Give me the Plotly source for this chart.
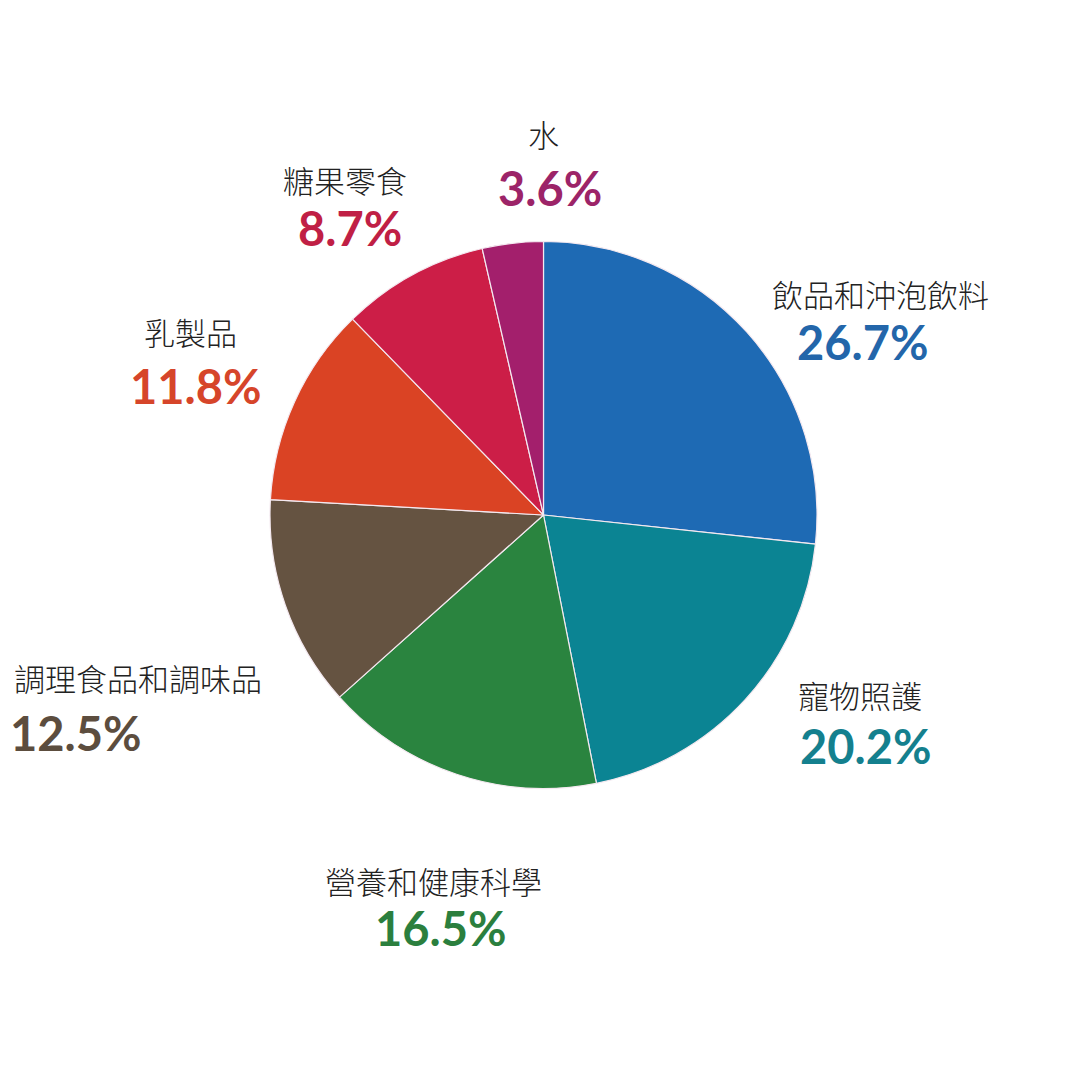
import plotly.graph_objects as go

labels = ["飲品和沖泡飲料", "寵物照護", "營養和健康科學", "調理食品和調味品", "乳製品", "糖果零食", "水"]
values = [26.7, 20.2, 16.5, 12.5, 11.8, 8.7, 3.6]
slice_colors = ["#1e6ab4", "#0b8493", "#2a843f", "#655341", "#da4324", "#cc1e47", "#a31f6c"]
text_colors = ["#2366aa", "#14808e", "#2b7f3e", "#5c4d3e", "#d6452a", "#c01f45", "#9c2468"]

# label positions in pixels (name center, percent center), and anchor
name_pos = [(880, 293), (860, 694), (433, 880), (138, 677), (190, 332), (345, 180), (543, 133)]
pct_pos = [(862, 342), (865, 746), (440, 928), (8, 733), (195, 386), (350, 228), (550, 188)]
pct_anchor = ["center", "center", "center", "left", "center", "center", "center"]

W = H = 1075
cx, cy, r = 543.5, 515, 273.5

fig = go.Figure(go.Pie(
    labels=labels, values=values, sort=False, direction="clockwise", rotation=0,
    marker=dict(colors=slice_colors, line=dict(color="#f4e9f0", width=1.2)),
    textinfo="none", hoverinfo="label+percent", showlegend=False,
    domain=dict(x=[(cx - r) / W, (cx + r) / W], y=[1 - (cy + r) / H, 1 - (cy - r) / H]),
))

annotations = []
for i, lab in enumerate(labels):
    nx, ny = name_pos[i]
    px, py = pct_pos[i]
    annotations.append(dict(
        text=lab, x=nx / W, y=1 - ny / H, xref="paper", yref="paper",
        xanchor="center", yanchor="middle", showarrow=False,
        font=dict(family="Noto Sans CJK TC", size=31, color="#222222", weight=300),
    ))
    annotations.append(dict(
        text=f"<b>{values[i]}%</b>", x=px / W, y=1 - py / H, xref="paper", yref="paper",
        xanchor=pct_anchor[i], yanchor="middle", showarrow=False,
        font=dict(family="Lato", size=47, color=text_colors[i]),
    ))

fig.update_layout(
    width=W, height=H, margin=dict(l=0, r=0, t=0, b=0),
    paper_bgcolor="white", plot_bgcolor="white",
    annotations=annotations,
)

fig.write_html("out.html")
